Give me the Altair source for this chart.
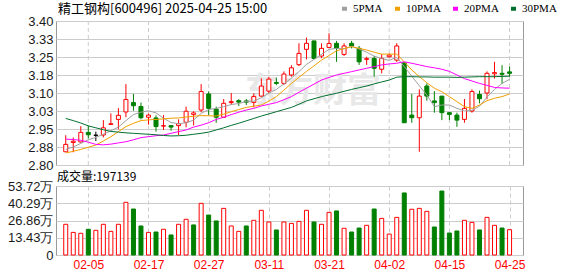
import altair as alt
import numpy as np
import pandas as pd

# ---------------- data ----------------
dates = ["01-23", "01-24", "01-27", "02-05", "02-06", "02-07", "02-10", "02-11", "02-12", "02-13",
         "02-14", "02-17", "02-18", "02-19", "02-20", "02-21", "02-24", "02-25", "02-26", "02-27",
         "02-28", "03-03", "03-04", "03-05", "03-06", "03-07", "03-10", "03-11", "03-12", "03-13",
         "03-14", "03-17", "03-18", "03-19", "03-20", "03-21", "03-24", "03-25", "03-26", "03-27",
         "03-28", "03-31", "04-01", "04-02", "04-03", "04-07", "04-08", "04-09", "04-10", "04-11",
         "04-14", "04-15", "04-16", "04-17", "04-18", "04-21", "04-22", "04-23", "04-24", "04-25"]

opens = [2.855, 2.894, 2.896, 2.936, 2.924, 2.925, 2.969, 2.990, 3.021, 3.060,
         3.044, 2.999, 2.996, 2.962, 2.964, 2.964, 2.978, 3.011, 3.029, 3.096,
         3.033, 2.999, 3.060, 3.068, 3.067, 3.061, 3.087, 3.108, 3.144, 3.140,
         3.175, 3.218, 3.282, 3.317, 3.254, 3.290, 3.307, 3.261, 3.307, 3.286,
         3.240, 3.244, 3.199, 3.251, 3.237, 3.226, 3.008, 2.997, 3.129, 3.067,
         3.087, 3.018, 3.008, 2.990, 3.025, 3.094, 3.100, 3.180, 3.182, 3.188]
closes = [2.886, 2.899, 2.936, 2.926, 2.924, 2.955, 2.972, 3.007, 3.073, 3.047,
          2.997, 3.008, 2.960, 2.964, 2.958, 2.972, 3.024, 3.017, 3.106, 3.036,
          2.999, 3.057, 3.064, 3.062, 3.062, 3.085, 3.129, 3.158, 3.140, 3.179,
          3.205, 3.265, 3.307, 3.244, 3.286, 3.306, 3.286, 3.296, 3.296, 3.230,
          3.243, 3.203, 3.244, 3.258, 3.296, 2.976, 2.997, 3.087, 3.087, 3.060,
          3.018, 3.011, 2.987, 3.036, 3.106, 3.076, 3.182, 3.185, 3.178, 3.182]
highs = [2.924, 2.915, 2.962, 2.964, 2.939, 2.987, 3.015, 3.037, 3.137, 3.096,
         3.060, 3.014, 3.007, 3.008, 2.964, 2.990, 3.043, 3.024, 3.137, 3.106,
         3.043, 3.075, 3.100, 3.074, 3.075, 3.099, 3.161, 3.168, 3.164, 3.190,
         3.216, 3.307, 3.331, 3.317, 3.307, 3.349, 3.317, 3.307, 3.317, 3.296,
         3.251, 3.254, 3.262, 3.265, 3.307, 3.226, 3.096, 3.115, 3.140, 3.108,
         3.087, 3.018, 3.018, 3.075, 3.115, 3.110, 3.190, 3.230, 3.216, 3.210]
lows = [2.855, 2.853, 2.893, 2.910, 2.900, 2.915, 2.968, 2.949, 2.999, 3.026,
        2.990, 2.968, 2.939, 2.946, 2.943, 2.925, 2.957, 2.965, 3.020, 3.008,
        2.976, 2.996, 3.050, 3.046, 3.050, 3.040, 3.085, 3.099, 3.133, 3.133,
        3.168, 3.212, 3.240, 3.240, 3.245, 3.286, 3.230, 3.254, 3.286, 3.217,
        3.217, 3.168, 3.182, 3.248, 3.230, 2.976, 2.976, 2.855, 3.068, 3.018,
        2.987, 2.987, 2.959, 2.976, 3.018, 3.057, 3.074, 3.160, 3.138, 3.168]

ma5 = [2.865, 2.875, 2.890, 2.905, 2.915, 2.928, 2.943, 2.958, 2.985, 3.010,
       3.020, 3.026, 3.017, 2.995, 2.977, 2.972, 2.976, 2.987, 3.015, 3.031,
       3.036, 3.043, 3.052, 3.056, 3.065, 3.066, 3.080, 3.099, 3.115, 3.138,
       3.162, 3.189, 3.219, 3.240, 3.261, 3.282, 3.286, 3.284, 3.294, 3.283,
       3.270, 3.254, 3.243, 3.236, 3.249, 3.210, 3.170, 3.130, 3.092, 3.043,
       3.050, 3.050, 3.036, 3.025, 3.028, 3.045, 3.083, 3.115, 3.140, 3.157]
ma10 = [2.850, 2.857, 2.865, 2.874, 2.883, 2.900, 2.918, 2.939, 2.960, 2.974,
        2.985, 2.988, 2.990, 2.992, 2.995, 2.996, 3.000, 3.003, 3.006, 3.005,
        3.004, 3.012, 3.022, 3.031, 3.040, 3.045, 3.050, 3.066, 3.085, 3.112,
        3.140, 3.165, 3.190, 3.213, 3.237, 3.256, 3.276, 3.285, 3.293, 3.286,
        3.279, 3.270, 3.262, 3.262, 3.262, 3.230, 3.196, 3.168, 3.143, 3.120,
        3.105, 3.085, 3.064, 3.043, 3.036, 3.050, 3.068, 3.078, 3.085, 3.096]
ma20 = [2.908, 2.906, 2.903, 2.895, 2.886, 2.884, 2.887, 2.892, 2.897, 2.905,
        2.914, 2.918, 2.922, 2.925, 2.932, 2.939, 2.946, 2.958, 2.966, 2.976,
        2.990, 2.999, 3.010, 3.020, 3.029, 3.036, 3.046, 3.053, 3.060, 3.072,
        3.085, 3.103, 3.120, 3.137, 3.154, 3.165, 3.175, 3.182, 3.189, 3.196,
        3.203, 3.210, 3.217, 3.221, 3.224, 3.230, 3.224, 3.217, 3.210, 3.205,
        3.199, 3.190, 3.175, 3.160, 3.150, 3.140, 3.132, 3.123, 3.121, 3.120]
ma30 = [2.994, 2.985, 2.975, 2.963, 2.955, 2.947, 2.940, 2.937, 2.934, 2.932,
        2.930, 2.928, 2.926, 2.923, 2.921, 2.922, 2.924, 2.928, 2.932, 2.937,
        2.946, 2.955, 2.965, 2.974, 2.984, 2.994, 3.004, 3.013, 3.022, 3.031,
        3.040, 3.053, 3.067, 3.076, 3.085, 3.092, 3.099, 3.107, 3.115, 3.122,
        3.129, 3.138, 3.146, 3.154, 3.166, 3.168, 3.168, 3.167, 3.167, 3.166,
        3.166, 3.166, 3.165, 3.166, 3.167, 3.168, 3.168, 3.168, 3.169, 3.170]

volume_wan = [23.9, 17.6, 16.9, 20.0, 19.2, 23.9, 18.4, 23.9, 41.0, 35.8,
              22.6, 17.6, 17.9, 20.0, 15.6, 23.9, 27.8, 23.4, 40.2, 31.1,
              26.5, 36.3, 22.6, 18.4, 22.6, 27.0, 34.8, 25.7, 19.5, 25.7,
              24.6, 26.2, 34.8, 25.7, 23.9, 33.2, 34.3, 20.8, 17.9, 21.0,
              23.1, 35.8, 28.5, 16.3, 29.3, 48.3, 35.6, 36.3, 34.0, 21.8,
              49.8, 17.1, 18.7, 27.0, 25.4, 19.5, 29.3, 23.1, 21.0, 19.71]
volume_dir = ["up", "up", "up", "down", "up", "up", "up", "up", "up", "down",
              "down", "up", "down", "up", "down", "up", "up", "down", "up", "down",
              "down", "up", "up", "up", "down", "up", "up", "up", "down", "up",
              "up", "up", "up", "down", "up", "up", "down", "up", "down", "down",
              "up", "down", "up", "up", "up", "down", "up", "up", "up", "down",
              "down", "down", "down", "up", "up", "down", "up", "up", "down", "up"]

ma_names = ["5PMA", "10PMA", "20PMA", "30PMA"]
tick_labels = ["02-05", "02-17", "02-27", "03-11", "03-21", "04-02", "04-15", "04-25"]
price_ticks = [2.80, 2.875, 2.95, 3.025, 3.10, 3.175, 3.25, 3.325, 3.40]
volume_ticks = [0, 13.43, 26.86, 40.29, 53.72]
title_text = "精工钢构[600496] 2025-04-25 15:00"
volume_title = "成交量:197139"
watermark = "东方财富"

# ---------------- tables ----------------
n = len(dates)
df = pd.DataFrame({"i": np.arange(n), "date": dates, "open": opens, "high": highs,
                   "low": lows, "close": closes, "vol": volume_wan, "vdir": volume_dir})
o = np.array(opens)
c = np.array(closes)
df["dir"] = np.where(c > o, "up", np.where(c < o, "down", "flat"))

ma_long = pd.concat([
    pd.DataFrame({"i": np.arange(n), "v": vals, "s": name})
    for name, vals in zip(ma_names, [ma5, ma10, ma20, ma30])
])

tick_idx = [dates.index(t) for t in tick_labels]
ticks_df = pd.DataFrame({"i": tick_idx})
dates_js = "[" + ",".join("'" + d + "'" for d in dates) + "]"

# ---------------- styles ----------------
RED = "#ff0000"
GREEN = "#008000"
GRID = "#cccccc"
dir_dom = ["up", "down", "flat"]
stroke_scale = alt.Scale(domain=dir_dom, range=[RED, GREEN, "#000000"])
fill_scale = alt.Scale(domain=dir_dom, range=["#ffffff", GREEN, "#000000"])
ma_colors = ["#a0a0a0", "#f0a000", "#ff00ff", "#00702e"]

W = 467
xs = alt.Scale(domain=[-0.63, 60.12], nice=False, zero=False)
ys = alt.Scale(domain=[2.80, 3.40], nice=False, zero=False)
vs = alt.Scale(domain=[0, 53.72], nice=False, zero=True)

LABEL_FONT = "Liberation Sans"
CJK = "Noto Sans CJK SC"


def price_y_axis():
    return alt.Axis(values=price_ticks, labelExpr="format(datum.value + 0.0001, '.2f')",
                    ticks=False, domain=False, grid=True, gridColor=GRID,
                    labelFont=LABEL_FONT, labelFontSize=13, labelColor="#1a1a1a",
                    labelPadding=3, labelOverlap=False, labelBound=False,
                    title=None, minExtent=55, maxExtent=55)


vol_x_axis = alt.Axis(values=tick_idx, labelExpr=dates_js + "[datum.value]",
                      ticks=False, domain=False, grid=True, gridDash=[4, 3],
                      gridColor=GRID, labelFont=LABEL_FONT, labelFontSize=12,
                      labelColor=RED, labelPadding=4, labelOverlap=False, title=None)
vol_y_axis = alt.Axis(values=volume_ticks,
                      labelExpr="datum.value == 0 ? '0' : format(datum.value, '.2f') + '万'",
                      ticks=False, domain=False, grid=True, gridColor=GRID,
                      labelFont=LABEL_FONT, labelFontSize=13, labelColor="#1a1a1a",
                      labelPadding=3, labelOverlap=False, labelBound=False,
                      title=None, minExtent=55, maxExtent=55)

base = alt.Chart(df)

vgrid = alt.Chart(ticks_df).mark_rule(strokeWidth=1, strokeDash=[4, 3], color=GRID).encode(
    x=alt.X("i:Q", scale=xs, axis=None)
)

wm = alt.Chart(pd.DataFrame({"t": [watermark]})).mark_text(
    font=CJK, fontSize=34, fontWeight="bold", color="#e8e8e8", align="center", baseline="middle"
).encode(x=alt.value(257), y=alt.value(71), text="t:N")

head = alt.Chart(pd.DataFrame({"t": [title_text]})).mark_text(
    font=CJK, fontSize=13, color="#000000", align="left", baseline="middle"
).encode(x=alt.value(2), y=alt.value(-12), text="t:N")

wick = base.mark_rule(strokeWidth=1).encode(
    x=alt.X("i:Q", scale=xs, axis=None),
    y=alt.Y("low:Q", scale=ys, axis=price_y_axis()),
    y2="high:Q",
    stroke=alt.Stroke("dir:N", scale=stroke_scale, legend=None),
)
body = base.mark_bar(size=4, strokeWidth=1).encode(
    x=alt.X("i:Q", scale=xs, axis=None),
    y=alt.Y("open:Q", scale=ys, axis=price_y_axis()),
    y2="close:Q",
    fill=alt.Fill("dir:N", scale=fill_scale, legend=None),
    stroke=alt.Stroke("dir:N", scale=stroke_scale, legend=None),
)
lines = alt.Chart(ma_long).mark_line(strokeWidth=1).encode(
    x=alt.X("i:Q", scale=xs, axis=None),
    y=alt.Y("v:Q", scale=ys, axis=price_y_axis()),
    color=alt.Color("s:N", scale=alt.Scale(domain=ma_names, range=ma_colors),
                    sort=ma_names,
                    legend=alt.Legend(orient="none", legendX=283, legendY=-18,
                                      direction="horizontal", title=None,
                                      symbolType="stroke", symbolSize=25,
                                      symbolStrokeWidth=4, labelFont="Liberation Serif",
                                      labelFontSize=11, labelColor="#000000",
                                      columnPadding=4, labelOffset=3, padding=0)),
)

price = alt.layer(vgrid, wm, head, wick, body, lines).properties(width=W, height=144)

vbars = base.mark_bar(size=4, strokeWidth=1).encode(
    x=alt.X("i:Q", scale=xs, axis=vol_x_axis),
    y=alt.Y("vol:Q", scale=vs, axis=vol_y_axis),
    fill=alt.Fill("vdir:N", scale=fill_scale, legend=None),
    stroke=alt.Stroke("vdir:N", scale=stroke_scale, legend=None),
)
vhead = alt.Chart(pd.DataFrame({"t": [volume_title]})).mark_text(
    font=CJK, fontSize=12, color="#000000", align="left", baseline="middle"
).encode(x=alt.value(1), y=alt.value(-9), text="t:N")

volume = alt.layer(vbars, vhead).properties(width=W, height=69)

chart = alt.vconcat(price, volume, spacing=21, bounds="flush").properties(
    padding={"left": 0, "top": 2, "right": 0, "bottom": 0},
    background="#ffffff",
).configure_axis(labelOverlap=False).configure_view(stroke="#999999", strokeWidth=1)

chart.save("out.html", embed_options={"renderer": "svg", "actions": False})
